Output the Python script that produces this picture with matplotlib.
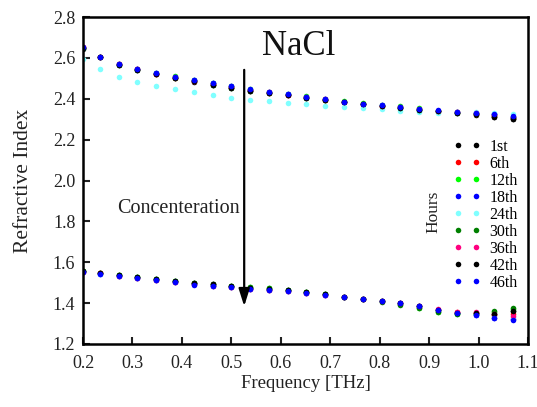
import matplotlib
matplotlib.use('Agg')
import matplotlib.pyplot as plt

plt.rcParams['font.family'] = ['Liberation Serif', 'DejaVu Serif']

# Frequencies (THz)
freq = [0.200, 0.234, 0.272, 0.310, 0.348, 0.386, 0.424, 0.462, 0.500, 0.538, 0.576, 0.614,
        0.652, 0.690, 0.728, 0.766, 0.804, 0.842, 0.880, 0.918, 0.956, 0.994, 1.032, 1.070]

hours = ['1st', '6th', '12th', '18th', '24th', '30th', '36th', '42th', '46th']
colors = ['#000000', '#FF0000', '#00FF00', '#0000FF', '#80FFFF', '#008000', '#FF0080', '#000000', '#0000FF']

# upper branch of refractive index
upper_1 = [2.645, 2.602, 2.566, 2.541, 2.519, 2.501, 2.484, 2.466, 2.451, 2.437, 2.426, 2.416,
           2.405, 2.394, 2.382, 2.372, 2.364, 2.356, 2.346, 2.338, 2.329, 2.321, 2.309, 2.299]
upper_6 = [2.655, 2.604, 2.568, 2.544, 2.522, 2.504, 2.488, 2.471, 2.457, 2.442, 2.430, 2.419,
           2.407, 2.396, 2.384, 2.374, 2.366, 2.358, 2.348, 2.340, 2.333, 2.327, 2.320, 2.308]
upper_12 = [2.650, 2.606, 2.570, 2.547, 2.526, 2.509, 2.493, 2.477, 2.463, 2.448, 2.435, 2.424,
            2.412, 2.401, 2.388, 2.378, 2.371, 2.363, 2.353, 2.342, 2.336, 2.331, 2.325, 2.313]
upper_18 = [2.650, 2.605, 2.569, 2.545, 2.524, 2.507, 2.491, 2.475, 2.461, 2.445, 2.432, 2.421,
            2.409, 2.398, 2.385, 2.375, 2.368, 2.360, 2.350, 2.342, 2.336, 2.330, 2.325, 2.313]
upper_24 = [2.594, 2.544, 2.508, 2.483, 2.464, 2.446, 2.432, 2.418, 2.405, 2.395, 2.389, 2.381,
            2.374, 2.367, 2.361, 2.356, 2.348, 2.340, 2.334, 2.332, 2.337, 2.335, 2.332, 2.324]
upper_30 = [2.648, 2.603, 2.567, 2.543, 2.521, 2.503, 2.486, 2.469, 2.455, 2.440, 2.428, 2.418,
            2.406, 2.395, 2.383, 2.373, 2.365, 2.357, 2.347, 2.339, 2.331, 2.324, 2.316, 2.304]
upper_36 = [2.652, 2.604, 2.568, 2.544, 2.523, 2.505, 2.489, 2.472, 2.458, 2.443, 2.431, 2.420,
            2.408, 2.397, 2.385, 2.374, 2.367, 2.359, 2.349, 2.341, 2.334, 2.328, 2.321, 2.309]
upper_42 = [2.646, 2.603, 2.567, 2.542, 2.520, 2.502, 2.485, 2.467, 2.453, 2.439, 2.427, 2.417,
            2.406, 2.395, 2.383, 2.373, 2.365, 2.357, 2.347, 2.339, 2.330, 2.323, 2.312, 2.301]
upper_46 = [2.652, 2.606, 2.570, 2.546, 2.525, 2.508, 2.492, 2.476, 2.462, 2.446, 2.433, 2.422,
            2.410, 2.399, 2.386, 2.376, 2.369, 2.361, 2.351, 2.343, 2.337, 2.332, 2.327, 2.315]

# lower branch of refractive index
lower_1 = [1.556, 1.549, 1.538, 1.528, 1.518, 1.508, 1.498, 1.492, 1.484, 1.475, 1.469, 1.463,
           1.453, 1.443, 1.430, 1.420, 1.410, 1.399, 1.385, 1.366, 1.354, 1.350, 1.347, 1.361]
lower_6 = [1.553, 1.546, 1.535, 1.524, 1.514, 1.504, 1.494, 1.487, 1.478, 1.470, 1.465, 1.459,
           1.449, 1.440, 1.428, 1.418, 1.408, 1.398, 1.386, 1.368, 1.357, 1.352, 1.342, 1.345]
lower_12 = [1.555, 1.547, 1.536, 1.526, 1.516, 1.506, 1.497, 1.491, 1.484, 1.479, 1.473, 1.466,
            1.455, 1.444, 1.430, 1.419, 1.408, 1.395, 1.378, 1.358, 1.349, 1.347, 1.356, 1.372]
lower_18 = [1.551, 1.543, 1.532, 1.522, 1.512, 1.502, 1.492, 1.486, 1.478, 1.470, 1.465, 1.459,
            1.449, 1.440, 1.428, 1.418, 1.409, 1.399, 1.385, 1.366, 1.351, 1.341, 1.328, 1.320]
lower_24 = [1.552, 1.544, 1.533, 1.523, 1.513, 1.503, 1.494, 1.487, 1.479, 1.471, 1.466, 1.460,
            1.450, 1.441, 1.429, 1.419, 1.409, 1.398, 1.384, 1.365, 1.352, 1.345, 1.335, 1.330]
lower_30 = [1.555, 1.548, 1.537, 1.527, 1.517, 1.507, 1.498, 1.492, 1.485, 1.480, 1.474, 1.466,
            1.455, 1.444, 1.430, 1.418, 1.406, 1.393, 1.377, 1.357, 1.349, 1.348, 1.360, 1.375]
lower_36 = [1.553, 1.545, 1.534, 1.524, 1.514, 1.504, 1.494, 1.486, 1.477, 1.468, 1.462, 1.457,
            1.448, 1.439, 1.428, 1.418, 1.408, 1.400, 1.388, 1.370, 1.358, 1.355, 1.345, 1.337]
lower_42 = [1.556, 1.549, 1.538, 1.528, 1.518, 1.508, 1.498, 1.492, 1.484, 1.476, 1.470, 1.463,
            1.453, 1.443, 1.431, 1.420, 1.410, 1.400, 1.385, 1.366, 1.353, 1.350, 1.347, 1.361]
lower_46 = [1.550, 1.542, 1.531, 1.521, 1.511, 1.501, 1.491, 1.485, 1.477, 1.470, 1.465, 1.459,
            1.449, 1.440, 1.428, 1.418, 1.409, 1.400, 1.386, 1.367, 1.350, 1.340, 1.326, 1.317]

uppers = [upper_1, upper_6, upper_12, upper_18, upper_24, upper_30, upper_36, upper_42, upper_46]
lowers = [lower_1, lower_6, lower_12, lower_18, lower_24, lower_30, lower_36, lower_42, lower_46]

fig = plt.figure(figsize=(5.37, 4.07), dpi=100)
ax = fig.add_axes([0.1546, 0.1548, 0.8286, 0.8034])

handles = []
for lab, col, up, lo in zip(hours, colors, uppers, lowers):
    h, = ax.plot(freq, up, linestyle='none', marker='o', markersize=4,
                 color=col, markeredgewidth=0, label=lab)
    ax.plot(freq, lo, linestyle='none', marker='o', markersize=4,
            color=col, markeredgewidth=0)
    handles.append(h)

ax.set_xlim(0.2, 1.1)
ax.set_ylim(1.2, 2.8)
ax.set_xticks([0.2, 0.3, 0.4, 0.5, 0.6, 0.7, 0.8, 0.9, 1.0, 1.1])
ax.set_yticks([1.2, 1.4, 1.6, 1.8, 2.0, 2.2, 2.4, 2.6, 2.8])
ax.xaxis.set_major_formatter(matplotlib.ticker.FormatStrFormatter('%.1f'))
ax.yaxis.set_major_formatter(matplotlib.ticker.FormatStrFormatter('%.1f'))
ax.tick_params(direction='in', length=5, width=1.5, labelsize=13, colors='#222222')
ax.tick_params(axis='x', pad=8)
ax.tick_params(axis='y', pad=5.5)
for s in ax.spines.values():
    s.set_linewidth(1.8)

ax.set_xlabel('Frequency [THz]', fontsize=13.5, color='#222222', labelpad=2)
ax.set_ylabel('Refractive Index', fontsize=15.5, color='#222222', labelpad=14)

ax.text(0.636, 2.655, 'NaCl', fontsize=25, ha='center', va='center', color='#111111')
ax.text(0.392, 1.865, 'Concenteration', fontsize=14.5, ha='center', va='center', color='#222222')
ax.annotate('', xy=(0.526, 1.371), xytext=(0.526, 2.555),
            arrowprops=dict(arrowstyle='-|>,head_width=0.22,head_length=0.7',
                            color='black', lw=1.6, mutation_scale=15))

ax.legend(handles=handles, loc='upper left', bbox_to_anchor=(445 / 537, 1 - 131 / 407),
          bbox_transform=fig.transFigure, frameon=False, numpoints=2, fontsize=11.5,
          labelspacing=0.06, handlelength=1.75, handletextpad=0.55, borderpad=0)
fig.text(433 / 537, 1 - 212 / 407, 'Hours', rotation=90, fontsize=12.5,
         ha='center', va='center', color='#222222')

fig.savefig('out.png', dpi=100)
